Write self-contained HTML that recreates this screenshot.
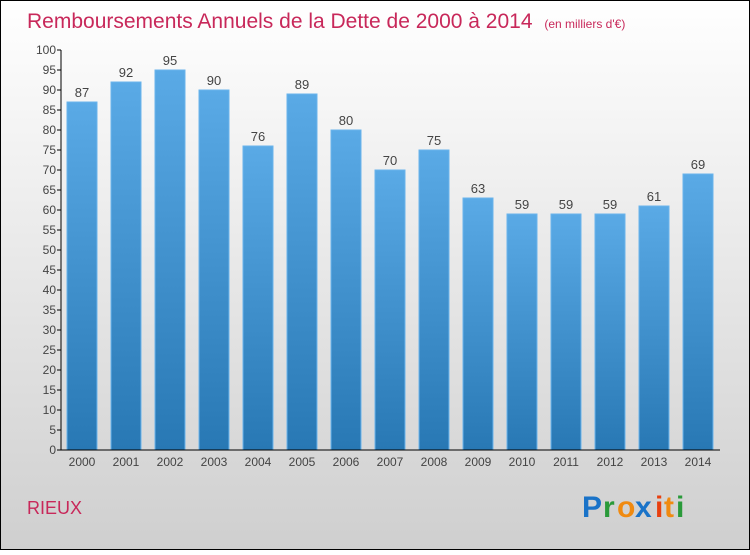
<!DOCTYPE html>
<html><head><meta charset="utf-8"><style>
html,body{margin:0;padding:0}
body{width:750px;height:550px;overflow:hidden;font-family:"Liberation Sans",sans-serif}
</style></head><body>
<svg id="chart" width="750" height="550" xmlns="http://www.w3.org/2000/svg">
<defs>
<linearGradient id="bg" x1="0" y1="0" x2="0" y2="1"><stop offset="0" stop-color="#ffffff"/><stop offset="1" stop-color="#cfcfcf"/></linearGradient>
<linearGradient id="bar" x1="0" y1="0" x2="0" y2="1"><stop offset="0" stop-color="#5aaae6"/><stop offset="1" stop-color="#2878b4"/></linearGradient>
</defs>
<rect x="0.5" y="0.5" width="749" height="549" fill="url(#bg)" stroke="#000"/>
<text x="27" y="28" font-size="21" fill="#c8285a">Remboursements Annuels de la Dette de 2000 à 2014 <tspan font-size="12" dx="6">(en milliers d'€)</tspan></text>
<g id="grid"></g>
<g id="bars"></g>
<g id="axes"></g>
<text x="27" y="514" font-size="18" fill="#c8285a">RIEUX</text>
<g font-size="30" font-family="'Liberation Sans',sans-serif" font-weight="bold">
<text x="582" y="517" fill="#1a73c8">P</text><text x="603" y="517" fill="#2a9a3a">r</text><text x="617" y="517" fill="#f08a10">o</text><text x="635" y="517" fill="#1a73c8">x</text><text x="655" y="517" fill="#e84010">i</text><text x="664" y="517" fill="#f08a10">t</text><text x="676" y="517" fill="#2a9a3a">i</text>
</g>
</svg>
<script>
const years=["2000","2001","2002","2003","2004","2005","2006","2007","2008","2009","2010","2011","2012","2013","2014"];
const values=[87,92,95,90,76,89,80,70,75,63,59,59,59,61,69];
const yTicks=[0,5,10,15,20,25,30,35,40,45,50,55,60,65,70,75,80,85,90,95,100];
const NS="http://www.w3.org/2000/svg";
const x0=61,x1=720,y0=450,yTop=50,yMax=100;
const yS=v=>y0-(v/yMax)*(y0-yTop);
const step=44,first=82;
const xS=i=>first+i*step;
function mk(t,a,p){const e=document.createElementNS(NS,t);for(const k in a)e.setAttribute(k,a[k]);p.appendChild(e);return e;}
const axes=document.getElementById('axes'),bars=document.getElementById('bars');
yTicks.forEach(t=>{
 const l=mk('line',{x1:x0-4,x2:x0,y1:yS(t),y2:yS(t),stroke:'#000'},axes);
 
 
 const tx=mk('text',{x:x0-5,y:yS(t)+4,'text-anchor':'end','font-size':12,fill:'#444'},axes);
 tx.textContent=t;
 
 
});
values.forEach((v,i)=>{
 const r=mk('rect',{x:xS(i)-15,y:yS(v),width:30,height:y0-yS(v),fill:'url(#bar)',stroke:'#6ab4ec','stroke-width':1},bars);
 
 
 const lb=mk('text',{x:xS(i),y:yS(v)-5,'text-anchor':'middle','font-size':13,fill:'#444'},bars);
 lb.textContent=v;
 
 
 const xl=mk('text',{x:xS(i),y:y0+16,'text-anchor':'middle','font-size':12,fill:'#444'},axes);
 xl.textContent=years[i];
 
 
});
const ya=mk('line',{x1:x0,x2:x0,y1:yTop,y2:y0,stroke:'#000'},axes);


const xa=mk('line',{x1:x0,x2:x1,y1:y0,y2:y0,stroke:'#000'},axes);


</script>
</body></html>
